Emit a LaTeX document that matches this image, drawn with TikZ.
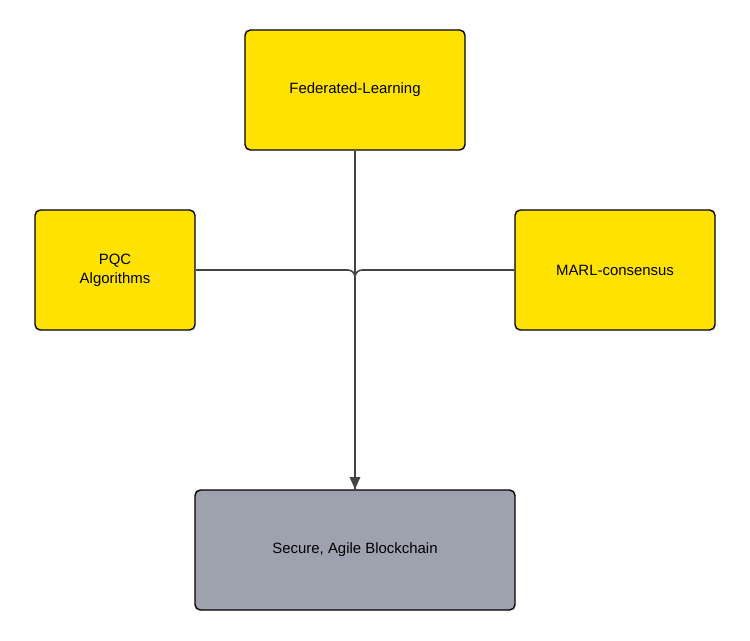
\documentclass[tikz,border=0pt]{standalone}
\usepackage{fontspec}
\setmainfont{Liberation Sans}
\usetikzlibrary{arrows.meta}
\definecolor{yel}{HTML}{FFE200}
\definecolor{gry}{HTML}{9EA2AE}
\definecolor{ln}{HTML}{444444}
\tikzset{box/.style={draw=black,line width=0.8pt,rounded corners=3pt,align=center,font=\fontsize{8.5}{11}\selectfont},
conn/.style={draw=ln,line width=0.9pt,rounded corners=4pt}}
\begin{document}
\begin{tikzpicture}[x=0.02cm,y=-0.02cm]
\useasboundingbox (0,0) rectangle (750,640);
\fill[white] (0,0) rectangle (750,640);
\node[box,fill=yel,minimum width=4.4cm,minimum height=2.4cm] (fl) at (355,90) {Federated-Learning};
\node[box,fill=yel,minimum width=3.2cm,minimum height=2.4cm] (pqc) at (115,270) {PQC\\Algorithms};
\node[box,fill=yel,minimum width=4cm,minimum height=2.4cm] (marl) at (615,270) {MARL-consensus};
\node[box,fill=gry,minimum width=6.4cm,minimum height=2.4cm] (sec) at (355,550) {Secure, Agile Blockchain};
\draw[conn] (pqc.east) -| (sec.north);
\draw[conn] (marl.west) -| (sec.north);
\draw[conn,-{Triangle[length=7pt,width=6pt]}] (fl.south) -- (sec.north);
\end{tikzpicture}
\end{document}
